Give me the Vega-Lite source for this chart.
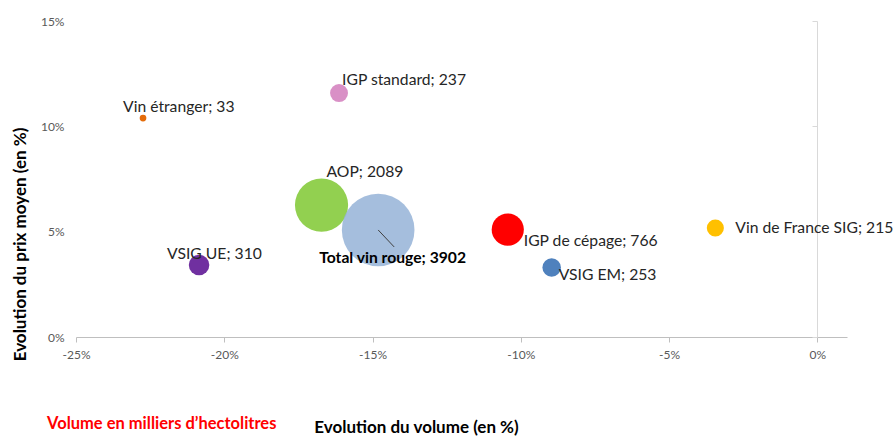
{
  "$schema": "https://vega.github.io/schema/vega-lite/v6.json",
  "width": 771,
  "height": 316,
  "autosize": {"type": "none"},
  "padding": {"left": 76, "top": 21, "right": 46, "bottom": 100},
  "background": "white",
  "config": {"view": {"stroke": null}, "font": "Lato"},
  "title": {"text": "Volume en milliers d’hectolitres", "orient": "bottom", "anchor": "start", "frame": "group", "dx": -29, "offset": -19, "color": "#FF0000", "fontSize": 16.5, "fontWeight": "bold", "font": "Lato"},
  "data": {"values": [
    {"name": "Vin étranger", "vol": -22.74, "prix": 10.39, "hl": 33, "label": "Vin étranger; 33"},
    {"name": "IGP standard", "vol": -16.13, "prix": 11.58, "hl": 237, "label": "IGP standard; 237"},
    {"name": "AOP", "vol": -16.72, "prix": 6.26, "hl": 2089, "label": "AOP; 2089"},
    {"name": "IGP de cépage", "vol": -10.44, "prix": 5.10, "hl": 766, "label": "IGP de cépage; 766"},
    {"name": "VSIG EM", "vol": -8.96, "prix": 3.30, "hl": 253, "label": "VSIG EM; 253"},
    {"name": "Vin de France SIG", "vol": -3.44, "prix": 5.17, "hl": 215, "label": "Vin de France SIG; 215"},
    {"name": "VSIG UE", "vol": -20.85, "prix": 3.42, "hl": 310, "label": "VSIG UE; 310"},
    {"name": "Total vin rouge", "vol": -14.81, "prix": 5.08, "hl": 3902, "label": "Total vin rouge; 3902"}
  ]},
  "encoding": {
    "x": {"field": "vol", "type": "quantitative", "title": "Evolution du volume (en %)",
      "scale": {"domain": [-25, 1], "nice": false, "zero": false},
      "axis": {"values": [-25, -20, -15, -10, -5, 0], "labelExpr": "datum.value + '%'", "grid": false, "labelFlush": false,
        "domainColor": "#BFBFBF", "tickColor": "#BFBFBF", "tickSize": 5, "labelPadding": 7,
        "labelColor": "#595959", "labelFontSize": 12, "labelFont": "Lato",
        "titleX": 340, "titleY": 90, "titleAlign": "center", "titleBaseline": "middle",
        "titleFontSize": 17, "titleFontWeight": "bold", "titleColor": "#000000", "titleFont": "Lato"}},
    "y": {"field": "prix", "type": "quantitative", "scale": {"domain": [0, 15], "nice": false, "zero": true}, "axis": null}
  },
  "layer": [
    {
      "mark": {"type": "circle", "opacity": 1},
      "encoding": {
        "y": {"field": "prix", "type": "quantitative", "title": "Evolution du prix moyen (en %)",
          "axis": {"orient": "left", "values": [0, 5, 10, 15], "labelExpr": "datum.value + '%'", "grid": false, "labelFlush": false,
            "domain": false, "ticks": false, "labelPadding": 12, "labelColor": "#595959", "labelFontSize": 12, "labelFont": "Lato",
            "titleAngle": 270, "titleX": -56, "titleY": 223, "titleAlign": "center", "titleBaseline": "middle",
            "titleFontSize": 17, "titleFontWeight": "bold", "titleColor": "#000000", "titleFont": "Lato"}},
        "size": {"field": "hl", "type": "quantitative", "scale": {"type": "linear", "domain": [0, 3902], "range": [0, 5281]}, "legend": null},
        "color": {"field": "name", "type": "nominal", "legend": null,
          "scale": {"domain": ["Vin étranger", "IGP standard", "AOP", "IGP de cépage", "VSIG EM", "Vin de France SIG", "VSIG UE", "Total vin rouge"],
            "range": ["#E46C0A", "#D990C6", "#92D050", "#FF0000", "#4F81BD", "#FFC000", "#7030A0", "#95B3D7"]}},
        "opacity": {"condition": {"test": "datum.name === 'Total vin rouge'", "value": 0.85}, "value": 1}
      }
    },
    {
      "transform": [{"filter": "datum.name === 'Total vin rouge'"}],
      "mark": {"type": "point", "shape": "M0,0L1,1.06", "size": 1024, "filled": false, "stroke": "#404040", "strokeWidth": 1, "opacity": 1},
      "encoding": {
        "y": {"field": "prix", "type": "quantitative",
          "axis": {"orient": "right", "offset": -30, "values": [0, 5, 10, 15], "labels": false, "title": null, "grid": false,
            "domain": true, "domainColor": "#D9D9D9", "ticks": true, "tickSize": -5, "tickColor": "#D9D9D9"}}
      }
    },
    {"transform": [{"filter": "datum.name === 'Vin étranger'"}], "mark": {"type": "text", "align": "left", "baseline": "middle", "dx": -20, "dy": -11, "font": "Lato", "fontSize": 15.7, "color": "#262626"}, "encoding": {"text": {"field": "label"}}},
    {"transform": [{"filter": "datum.name === 'IGP standard'"}], "mark": {"type": "text", "align": "left", "baseline": "middle", "dx": 3, "dy": -13, "font": "Lato", "fontSize": 15.7, "color": "#262626"}, "encoding": {"text": {"field": "label"}}},
    {"transform": [{"filter": "datum.name === 'AOP'"}], "mark": {"type": "text", "align": "left", "baseline": "middle", "dx": 5, "dy": -33, "font": "Lato", "fontSize": 15.7, "color": "#262626"}, "encoding": {"text": {"field": "label"}}},
    {"transform": [{"filter": "datum.name === 'IGP de cépage'"}], "mark": {"type": "text", "align": "left", "baseline": "middle", "dx": 16, "dy": 11, "font": "Lato", "fontSize": 15.7, "color": "#262626"}, "encoding": {"text": {"field": "label"}}},
    {"transform": [{"filter": "datum.name === 'VSIG EM'"}], "mark": {"type": "text", "align": "left", "baseline": "middle", "dx": 7, "dy": 8, "font": "Lato", "fontSize": 15.7, "color": "#262626"}, "encoding": {"text": {"field": "label"}}},
    {"transform": [{"filter": "datum.name === 'Vin de France SIG'"}], "mark": {"type": "text", "align": "left", "baseline": "middle", "dx": 20, "dy": 0, "font": "Lato", "fontSize": 15.7, "color": "#262626"}, "encoding": {"text": {"field": "label"}}},
    {"transform": [{"filter": "datum.name === 'VSIG UE'"}], "mark": {"type": "text", "align": "left", "baseline": "middle", "dx": -32, "dy": -11, "font": "Lato", "fontSize": 15.7, "color": "#262626"}, "encoding": {"text": {"field": "label"}}},
    {"transform": [{"filter": "datum.name === 'Total vin rouge'"}], "mark": {"type": "text", "align": "left", "baseline": "middle", "dx": -59, "dy": 28, "font": "Lato", "fontSize": 15.7, "fontWeight": "bold", "color": "#000000"}, "encoding": {"text": {"field": "label"}}}
  ],
  "resolve": {"axis": {"y": "independent"}}
}
